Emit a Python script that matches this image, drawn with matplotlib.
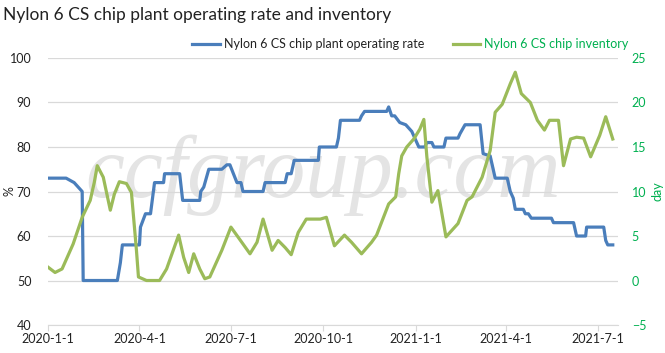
import pandas as pd
import matplotlib
matplotlib.use("Agg")
import matplotlib.pyplot as plt

plt.rcParams["font.family"] = ["Lato", "DejaVu Sans"]

# operating rate, %
rate_dates = ["2020-01-01", "2020-01-19", "2020-01-27", "2020-01-31", "2020-02-04", "2020-02-05",
              "2020-03-10", "2020-03-13", "2020-03-15", "2020-04-01", "2020-04-02", "2020-04-07",
              "2020-04-12", "2020-04-16", "2020-04-25", "2020-04-26", "2020-05-11", "2020-05-14",
              "2020-05-31", "2020-06-01", "2020-06-04", "2020-06-09", "2020-06-22", "2020-06-27",
              "2020-06-30", "2020-07-07", "2020-07-11", "2020-07-13", "2020-08-02", "2020-08-04",
              "2020-08-24", "2020-08-26", "2020-08-30", "2020-09-02", "2020-09-26", "2020-09-27",
              "2020-10-14", "2020-10-16", "2020-10-18", "2020-11-06", "2020-11-08", "2020-11-11",
              "2020-12-03", "2020-12-05", "2020-12-08", "2020-12-11", "2020-12-16", "2020-12-22",
              "2020-12-28", "2020-12-31", "2021-01-04", "2021-01-10", "2021-01-12", "2021-01-17",
              "2021-01-19", "2021-01-29", "2021-01-31", "2021-02-12", "2021-02-14", "2021-02-19",
              "2021-03-06", "2021-03-09", "2021-03-16", "2021-03-21", "2021-04-02", "2021-04-05",
              "2021-04-08", "2021-04-10", "2021-04-18", "2021-04-20", "2021-04-23", "2021-04-26",
              "2021-05-16", "2021-05-18", "2021-06-07", "2021-06-10", "2021-06-19", "2021-06-20",
              "2021-07-07", "2021-07-09", "2021-07-11", "2021-07-16"]
rate_vals = [73, 73, 72, 71, 70, 50,
             50, 54, 58, 58, 62, 65,
             65, 72, 72, 74, 74, 68,
             68, 70, 71, 75, 75, 76,
             76, 72, 72, 70, 70, 72,
             72, 74, 74, 77, 77, 80,
             80, 82, 86, 86, 87, 88,
             88, 89, 87, 87, 85.5, 85,
             83.5, 82, 80, 80, 81, 81,
             80, 80, 82, 82, 83, 85,
             85, 78.5, 78, 73, 73, 70,
             68.5, 66, 66, 65, 65, 64,
             64, 63, 63, 60, 60, 62,
             62, 59, 58, 58]

# inventory, days
inv_dates = ["2020-01-01", "2020-01-08", "2020-01-15", "2020-01-26", "2020-02-04", "2020-02-12",
             "2020-02-16", "2020-02-19", "2020-02-25", "2020-03-03", "2020-03-07", "2020-03-12",
             "2020-03-19", "2020-03-24", "2020-03-29", "2020-03-31", "2020-04-08", "2020-04-21",
             "2020-04-28", "2020-05-10", "2020-05-15", "2020-05-20", "2020-05-25", "2020-05-31",
             "2020-06-05", "2020-06-10", "2020-06-22", "2020-07-01", "2020-07-08", "2020-07-20",
             "2020-07-27", "2020-08-02", "2020-08-11", "2020-08-17", "2020-08-24", "2020-08-30",
             "2020-09-06", "2020-09-14", "2020-09-28", "2020-10-04", "2020-10-12", "2020-10-22",
             "2020-10-29", "2020-11-08", "2020-11-18", "2020-11-23", "2020-12-05", "2020-12-12",
             "2020-12-15", "2020-12-18", "2020-12-23", "2020-12-30", "2021-01-05", "2021-01-09",
             "2021-01-12", "2021-01-17", "2021-01-23", "2021-01-31", "2021-02-12", "2021-02-21",
             "2021-02-26", "2021-03-08", "2021-03-16", "2021-03-21", "2021-03-28", "2021-04-05",
             "2021-04-10", "2021-04-16", "2021-04-25", "2021-05-02", "2021-05-09", "2021-05-14",
             "2021-05-23", "2021-05-28", "2021-06-04", "2021-06-10", "2021-06-17", "2021-06-24",
             "2021-07-03", "2021-07-09", "2021-07-16"]
inv_vals = [1.5, 0.9, 1.3, 4.1, 7.1, 9.0,
            11.0, 12.9, 11.6, 7.9, 9.7, 11.1,
            10.9, 9.9, 3.4, 0.4, 0.0, 0.0,
            1.3, 5.1, 2.6, 0.9, 3.0, 1.3,
            0.2, 0.4, 3.4, 6.0, 4.9, 3.0,
            4.3, 6.9, 3.4, 4.5, 3.7, 2.9,
            5.4, 6.9, 6.9, 7.1, 3.9, 5.1,
            4.3, 3.0, 4.3, 5.1, 8.6, 9.4,
            12.0, 14.0, 15.0, 15.9, 17.0, 18.1,
            13.9, 8.8, 10.1, 4.9, 6.4, 9.0,
            9.4, 11.6, 14.6, 18.9, 19.8, 22.1,
            23.4, 21.0, 20.0, 18.0, 16.9, 18.0,
            18.0, 12.9, 15.9, 16.1, 16.0, 13.9,
            16.3, 18.4, 15.9]

tick_dates = ["2020-01-01", "2020-04-01", "2020-07-01", "2020-10-01",
              "2021-01-01", "2021-04-01", "2021-07-01"]
tick_labels = ["2020-1-1", "2020-4-1", "2020-7-1", "2020-10-1",
               "2021-1-1", "2021-4-1", "2021-7-1"]

blue = "#4a7ebb"
green = "#9bbb59"
txtgreen = "#00b050"
grid = "#d9d9d9"

fig = plt.figure(figsize=(6.65, 3.53), dpi=100)
ax = fig.add_axes([0.0722, 0.0793, 0.8568, 0.7564])
ax2 = ax.twinx()
ax.patch.set_visible(False)

# watermark, behind the lines
fig.text(0.486, 0.442, "ccfgroup.com", fontsize=63, family="Liberation Serif",
         style="italic", color="#e4e4e4", ha="center", va="baseline", zorder=-1)

ax.plot(pd.to_datetime(rate_dates), rate_vals, color=blue, lw=2.3, solid_joinstyle="round",
        label="Nylon 6 CS chip plant operating rate")
ax2.plot(pd.to_datetime(inv_dates), inv_vals, color=green, lw=2.3, solid_joinstyle="round",
         label="Nylon 6 CS chip inventory")

ax.set_ylim(40, 100)
ax.set_yticks(range(40, 101, 10))
ax2.set_ylim(-5, 25)
ax2.set_yticks(range(-5, 26, 5))
ax.set_xlim(pd.Timestamp("2020-01-01"), pd.Timestamp("2021-07-21"))
ax.set_xticks(pd.to_datetime(tick_dates))
ax.set_xticklabels(tick_labels)

for a in (ax, ax2):
    for s in a.spines.values():
        s.set_visible(False)
ax.spines["bottom"].set_visible(True)
ax.spines["bottom"].set_color(grid)
ax2.grid(False)
ax.yaxis.grid(True, color=grid, lw=0.9)
ax.set_axisbelow(True)

ax.tick_params(axis="y", length=0, labelsize=9, colors="#222222", pad=12)
ax.tick_params(axis="x", length=4, color=grid, labelsize=9, colors="#222222", pad=2)
ax2.tick_params(axis="y", length=0, labelsize=9, colors=txtgreen, pad=10)

ax.set_ylabel("%", fontsize=9, color="#222222")
ax.yaxis.set_label_coords(-0.057, 0.5)
ax2.set_ylabel("day", fontsize=9, color=txtgreen, labelpad=4)

fig.text(0.005, 0.958, "Nylon 6 CS chip plant operating rate and inventory", fontsize=12.5,
         color="#222222", ha="left", va="center")

h1, l1 = ax.get_legend_handles_labels()
h2, l2 = ax2.get_legend_handles_labels()
leg = fig.legend(h1 + h2, l1 + l2, loc="center", bbox_to_anchor=(0.617, 0.875), ncol=2,
                 frameon=False, fontsize=9, handlelength=2.2, handletextpad=0.3,
                 columnspacing=2.3)
leg.get_texts()[0].set_color("#222222")
leg.get_texts()[1].set_color(txtgreen)

fig.savefig("out.png", dpi=100)
